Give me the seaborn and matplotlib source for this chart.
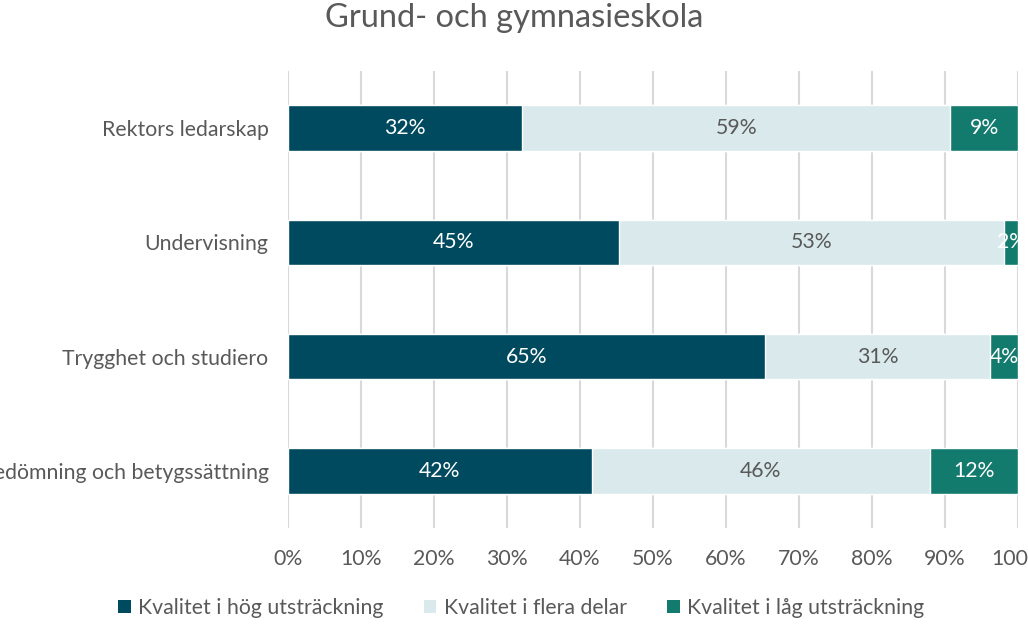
import matplotlib
matplotlib.use("Agg")
import matplotlib.pyplot as plt
import seaborn as sns
import numpy as np
import pandas as pd
from matplotlib.patches import Patch

categories = ["Rektors ledarskap", "Undervisning", "Trygghet och studiero",
              "Bedömning och betygssättning"]
series_names = ["Kvalitet i hög utsträckning", "Kvalitet i flera delar",
                "Kvalitet i låg utsträckning"]
hog = [32.1, 45.3, 65.4, 41.6]
flera = [58.6, 52.8, 30.8, 46.3]
lag = [9.3, 1.9, 3.8, 12.1]
title = "Grund- och gymnasieskola"

colors = ["#004A5F", "#DAEAEC", "#137A6E"]
text_col = "#595959"
fs = 15.3

sns.set_theme(style="white")
plt.rcParams["font.family"] = ["Lato", "DejaVu Sans"]

fig = plt.figure(figsize=(10.28, 6.25), dpi=100)
ax = fig.add_axes([288/1028, (625-528)/625, (1018-288)/1028, (528-71)/625])

df = pd.DataFrame({"cat": categories, "hog": hog, "flera": flera, "lag": lag})
df["c1"] = df["hog"]
df["c2"] = df["hog"] + df["flera"]
df["c3"] = df["c2"] + df["lag"]

for col, c in zip(["c3", "c2", "c1"], colors[::-1]):
    sns.barplot(data=df, y="cat", x=col, color=c, orient="h", width=0.4,
                saturation=1, ax=ax, zorder=3)

ax.set_xlim(0, 100)
ax.set_ylim(3.5, -0.5)
ax.set_xticks(np.arange(0, 101, 10))
ax.set_xticklabels([f"{v}%" for v in range(0, 101, 10)])
ax.xaxis.grid(True, color="#D9D9D9", linewidth=1.5, zorder=0)
ax.set_axisbelow(True)
for s in ax.spines.values():
    s.set_visible(False)
ax.set_xlabel("")
ax.set_ylabel("")
ax.tick_params(axis="x", length=0, pad=15, labelsize=fs, labelcolor=text_col)
ax.tick_params(axis="y", length=0, pad=14, labelsize=fs, labelcolor=text_col)

# bar labels
for i, (a, b, c) in enumerate(zip(hog, flera, lag)):
    ax.text(a/2, i, f"{round(a)}%", ha="center", va="center", color="white", fontsize=fs, zorder=5)
    ax.text(a + b/2, i, f"{round(b)}%", ha="center", va="center", color=text_col, fontsize=fs, zorder=5)
    ax.text(a + b + c/2, i, f"{round(c)}%", ha="center", va="center", color="white", fontsize=fs, zorder=5,
            clip_on=False)

fig.suptitle(title, x=0.5, y=0.995, fontsize=23.5, color=text_col, va="top")

handles = [Patch(facecolor=c, edgecolor="none") for c in colors]
fig.legend(handles, series_names, loc="center", bbox_to_anchor=(0.507, 0.027),
           ncol=3, frameon=False, fontsize=fs, labelcolor=text_col,
           handlelength=0.6, handleheight=0.6, handletextpad=0.35, columnspacing=1.9)

fig.savefig("out.png", dpi=100)
